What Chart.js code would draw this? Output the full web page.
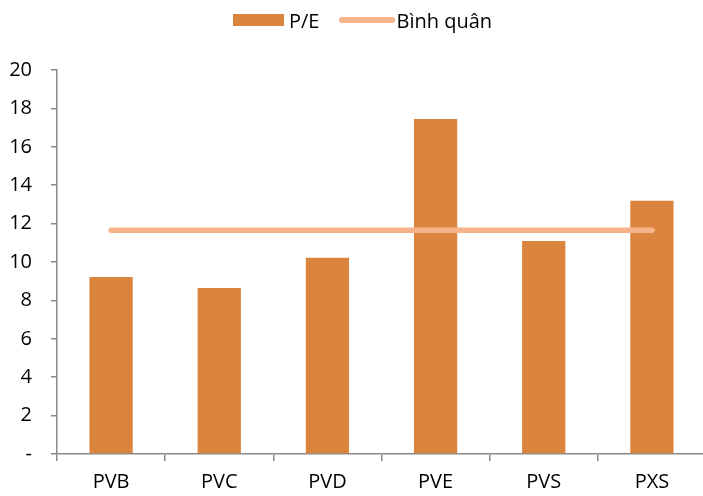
<!DOCTYPE html>
<html>
<head>
<meta charset="utf-8">
<script src="https://cdn.jsdelivr.net/npm/chart.js@4"></script>
<style>
  html, body { margin: 0; padding: 0; background: #fff; overflow: hidden; }
  #wrap { position: relative; width: 703px; height: 496px; overflow: hidden; }
  #legend {
    position: absolute; top: 7px; left: 233px; height: 26px;
    display: flex; align-items: center;
    font-family: 'Open Sans', sans-serif; font-size: 20px; color: #000;
  }
  #legend .item { display: flex; align-items: center; }
  #legend .sw-bar { width: 51px; height: 12px; margin-right: 5px; }
  #legend .sw-line { width: 56px; height: 6px; border-radius: 3px; margin-left: 20px; margin-right: 1px; }
</style>
</head>
<body>
<div id="wrap">
  <!-- plot area runs a little past the right edge, like the original -->
  <canvas id="chart-pe" width="706" height="496"></canvas>
  <div id="legend"></div>
</div>
<script>
/* P/E theo mã — cột + đường bình quân */

const categories = ['PVB', 'PVC', 'PVD', 'PVE', 'PVS', 'PXS'];
const peValues = [9.22, 8.65, 10.22, 17.45, 11.1, 13.19];
const avgValues = [11.65, 11.65, 11.65, 11.65, 11.65, 11.65];
const yTicks = [0, 2, 4, 6, 8, 10, 12, 14, 16, 18, 20];

const BAR_COLOR = '#DB843E';
const LINE_COLOR = '#F7B48B';
const AXIS_COLOR = '#8a8a8a';
const FONT = { family: "'Open Sans', sans-serif", size: 20 };

// legend (HTML)
const legendEl = document.getElementById('legend');
legendEl.innerHTML = `
  <span class="item"><span class="sw-bar" style="background:${BAR_COLOR}"></span>P/E</span>
  <span class="item"><span class="sw-line" style="background:${LINE_COLOR}"></span>Bình quân</span>
`;

new Chart(document.getElementById('chart-pe'), {
  data: {
    labels: categories,
    datasets: [
      {
        type: 'line',
        label: 'Bình quân',
        data: avgValues,
        borderColor: LINE_COLOR,
        borderWidth: 5.5,
        borderCapStyle: 'round',
        pointRadius: 0,
        fill: false,
        order: 0,
      },
      {
        type: 'bar',
        label: 'P/E',
        data: peValues,
        backgroundColor: BAR_COLOR,
        categoryPercentage: 1,
        barPercentage: 0.4,
        order: 1,
      },
    ]
  },
  options: {
    responsive: false,
    animation: false,
    devicePixelRatio: 1,
    layout: { padding: { top: 70, left: 0, right: 0, bottom: 0 } },
    plugins: {
      legend: { display: false },
      tooltip: { enabled: false }
    },
    scales: {
      x: {
        offset: true,
        grid: { offset: true, drawOnChartArea: false, tickLength: 7, color: AXIS_COLOR, lineWidth: 1.5 },
        border: { color: AXIS_COLOR, width: 1.5 },
        ticks: { color: '#000', font: FONT, padding: 9 },
        afterFit: (axis) => { axis.height = 42; }
      },
      y: {
        min: 0,
        max: 20,
        afterBuildTicks: (axis) => { axis.ticks = yTicks.map(v => ({ value: v })); },
        grid: { drawOnChartArea: false, tickLength: 6, color: AXIS_COLOR, lineWidth: 1.5 },
        border: { color: AXIS_COLOR, width: 1.5 },
        ticks: {
          color: '#000',
          font: FONT,
          padding: 19,
          callback: (v) => (v === 0 ? '-' : v)
        },
        afterFit: (axis) => { axis.width = 57; }
      }
    }
  }
});
</script>
</body>
</html>
